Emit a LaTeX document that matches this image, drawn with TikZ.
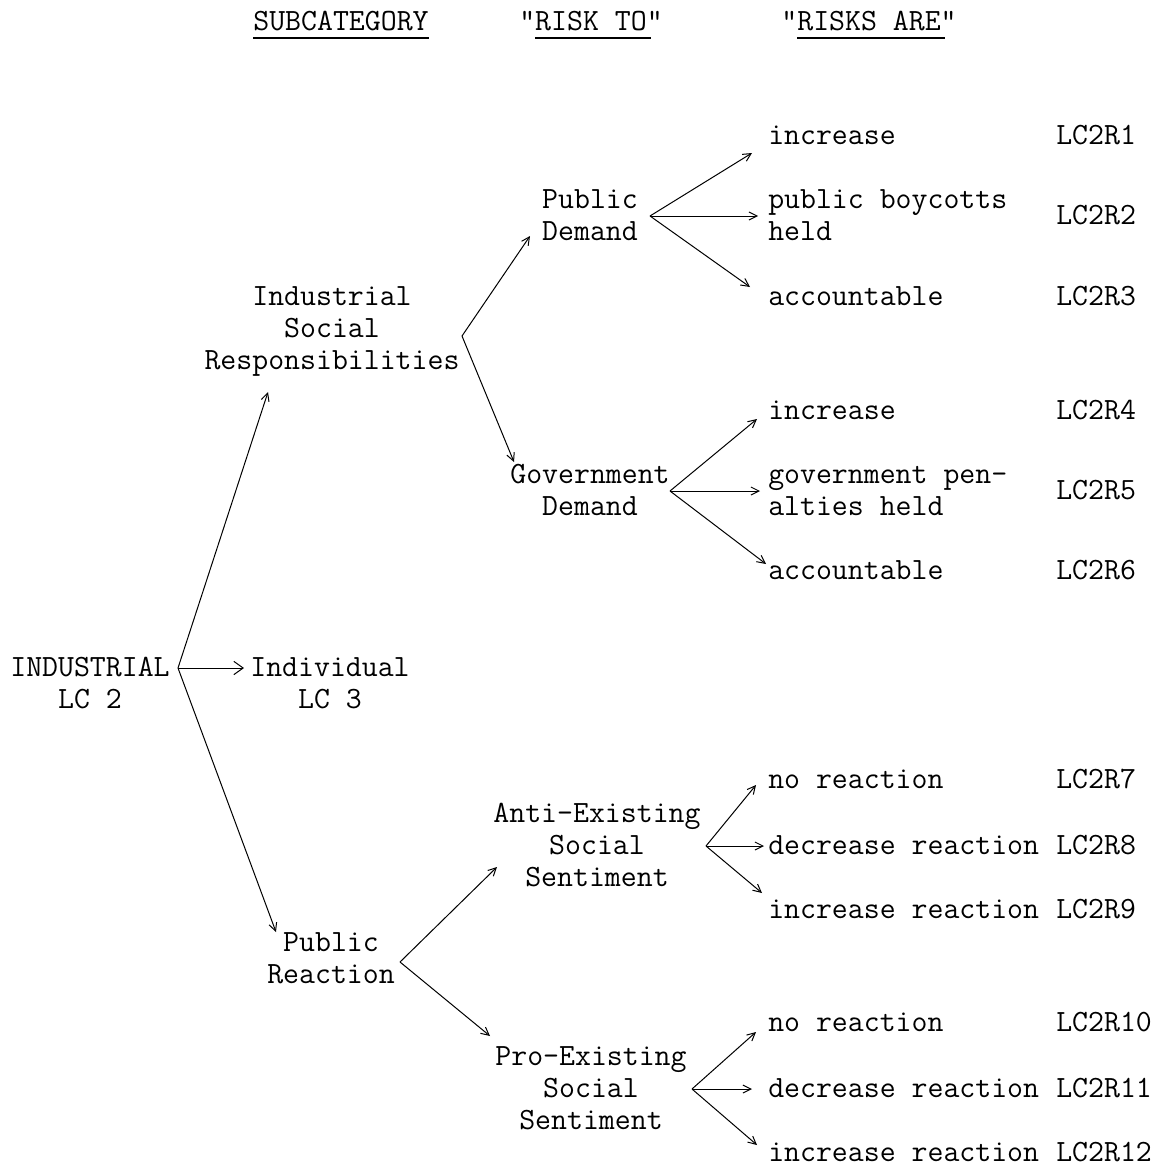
\documentclass[tikz,border=0pt]{standalone}
\usepackage{fontspec}
\usetikzlibrary{arrows.meta}
% stacked lines, first baseline is the node baseline
\newcommand\mlines[1]{\begin{tabular}[t]{@{}c@{}}#1\end{tabular}}
\newcommand\llines[1]{\begin{tabular}[t]{@{}l@{}}#1\end{tabular}}
\begin{document}
\begin{tikzpicture}[x=0.75pt,y=-0.75pt,
  every node/.style={inner sep=0pt, font=\ttfamily\fontsize{23.2}{24}\selectfont},
  lbl/.style={anchor=base},
  leaf/.style={anchor=base west},
  arr/.style={line width=0.75pt, -{Straight Barb[length=6pt,width=6pt]}},
  bigarr/.style={line width=0.75pt, -{Straight Barb[length=7pt,width=10pt]}},
  uline/.style={line width=1.6pt}]
\useasboundingbox (0,0) rectangle (1160,1167);

% column headings
\node[lbl] (hsub) at (341,30) {SUBCATEGORY};
\node[lbl] (hto)  at (591,30) {"RISK TO"};
\node[lbl] (hare) at (869,30) {"RISKS ARE"};
\draw[uline] ([yshift=-6pt]hsub.base west) -- ([yshift=-6pt]hsub.base east);
\draw[uline] ([xshift=12pt,yshift=-6pt]hto.base west) -- ([xshift=-9pt,yshift=-6pt]hto.base east);
\draw[uline] ([xshift=12pt,yshift=-6pt]hare.base west) -- ([xshift=-9pt,yshift=-6pt]hare.base east);

% category and subcategories
\node[lbl] (ind)  at (90,676)  {\mlines{INDUSTRIAL\\LC 2}};
\node[lbl] (indv) at (330,676) {\mlines{Individual\\LC 3}};
\node[lbl] (isr)  at (332,305) {\mlines{Industrial\\Social\\Responsibilities}};
\node[lbl] (prc)  at (331,951) {\mlines{Public\\Reaction}};

% risk to
\node[lbl] (pdm) at (590,208)  {\mlines{Public\\Demand}};
\node[lbl] (gdm) at (590,483)  {\mlines{Government\\Demand}};
\node[lbl] (ass) at (597,822)  {\mlines{Anti-Existing\\Social\\Sentiment}};
\node[lbl] (pss) at (591,1065) {\mlines{Pro-Existing\\Social\\Sentiment}};

% risks are
\node[leaf] (r1)  at (768,144)  {increase};
\node[leaf] (r2)  at (768,208)  {\llines{public boycotts\\held}};
\node[leaf] (r3)  at (768,305)  {accountable};
\node[leaf] (r4)  at (768,419)  {increase};
\node[leaf] (r5)  at (768,483)  {\llines{government pen-\\alties held}};
\node[leaf] (r6)  at (768,579)  {accountable};
\node[leaf] (r7)  at (768,788)  {no reaction};
\node[leaf] (r8)  at (768,854)  {decrease reaction};
\node[leaf] (r9)  at (768,918)  {increase reaction};
\node[leaf] (r10) at (768,1031) {no reaction};
\node[leaf] (r11) at (768,1097) {decrease reaction};
\node[leaf] (r12) at (768,1161) {increase reaction};

% codes
\node[leaf] (c1)  at (1056,144)  {LC2R1};
\node[leaf] (c2)  at (1056,224)  {LC2R2};
\node[leaf] (c3)  at (1056,305)  {LC2R3};
\node[leaf] (c4)  at (1056,419)  {LC2R4};
\node[leaf] (c5)  at (1056,499)  {LC2R5};
\node[leaf] (c6)  at (1056,579)  {LC2R6};
\node[leaf] (c7)  at (1056,788)  {LC2R7};
\node[leaf] (c8)  at (1056,854)  {LC2R8};
\node[leaf] (c9)  at (1056,918)  {LC2R9};
\node[leaf] (c10) at (1056,1031) {LC2R10};
\node[leaf] (c11) at (1056,1097) {LC2R11};
\node[leaf] (c12) at (1056,1161) {LC2R12};

% fan origins
\coordinate (o-ind) at (178,668);
\coordinate (o-isr) at (462,336);
\coordinate (o-prc) at (400,962);
\coordinate (o-pdm) at (650,216);
\coordinate (o-gdm) at (670,491);
\coordinate (o-ass) at (706,846);
\coordinate (o-pss) at (692,1089);

% arrow tips
\coordinate (t-isr) at (268,392);
\coordinate (t-indv) at (244,668);
\coordinate (t-prc) at (276,932);
\coordinate (t-pdm) at (530,236);
\coordinate (t-gdm) at (514,462);
\coordinate (t-ass) at (497,867);
\coordinate (t-pss) at (490,1036);
\coordinate (t-r1) at (752,153);
\coordinate (t-r2) at (758,216);
\coordinate (t-r3) at (750,287);
\coordinate (t-r4) at (757,419);
\coordinate (t-r5) at (760,491);
\coordinate (t-r6) at (766,564);
\coordinate (t-r7) at (756,785);
\coordinate (t-r8) at (764,846);
\coordinate (t-r9) at (762,893);
\coordinate (t-r10) at (756,1032);
\coordinate (t-r11) at (752,1089);
\coordinate (t-r12) at (757,1145);

% connectors
\draw[arr] (o-ind) -- (t-isr);
\draw[bigarr] (o-ind) -- (t-indv);
\draw[arr] (o-ind) -- (t-prc);
\draw[arr] (o-isr) -- (t-pdm);
\draw[arr] (o-isr) -- (t-gdm);
\draw[arr] (o-prc) -- (t-ass);
\draw[arr] (o-prc) -- (t-pss);
\foreach \t in {r1,r2,r3} \draw[arr] (o-pdm) -- (t-\t);
\foreach \t in {r4,r5,r6} \draw[arr] (o-gdm) -- (t-\t);
\foreach \t in {r7,r8,r9} \draw[arr] (o-ass) -- (t-\t);
\foreach \t in {r10,r11,r12} \draw[arr] (o-pss) -- (t-\t);
\end{tikzpicture}
\end{document}
